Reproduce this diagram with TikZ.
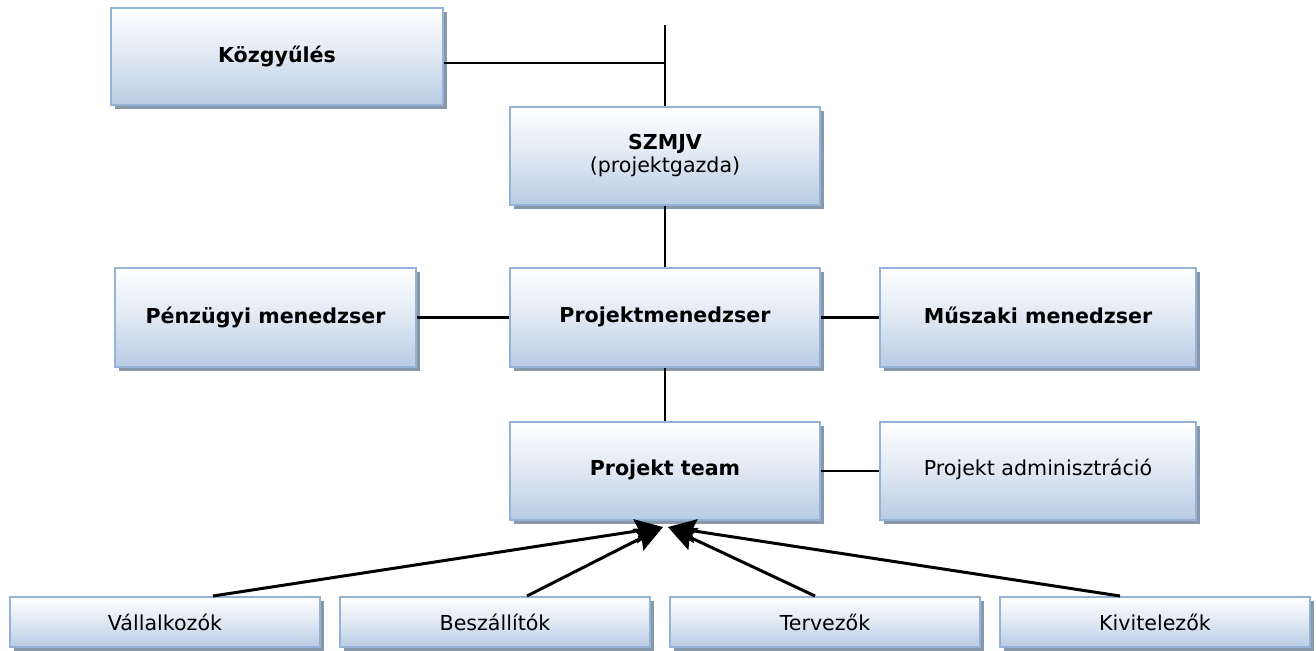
\documentclass[tikz,border=0pt]{standalone}
\usepackage{fontspec}
\setmainfont{DejaVu Sans}
\usetikzlibrary{shadows,arrows.meta}
\definecolor{boxline}{HTML}{95B3D7}
\definecolor{boxbot}{HTML}{B8CCE4}
\definecolor{shadowc}{HTML}{8898AB}
\tikzset{
  box/.style={draw=boxline, line width=2pt, top color=white, bottom color=boxbot,
    middle color=boxbot!45!white, shading angle=0,
    drop shadow={shadow xshift=4pt, shadow yshift=-4pt, fill=shadowc, opacity=1},
    inner sep=0pt, font=\fontsize{20.6}{25}\selectfont, align=center},
  conn/.style={line width=2.2pt, black},
  arr/.style={line width=3pt, arrows={-Stealth[length=28pt,width=24pt,inset=4pt]}},
}
\begin{document}
\begin{tikzpicture}[x=1pt,y=-1pt]
\useasboundingbox (0,0) rectangle (1316,650);
\node[box, minimum width=332, minimum height=97] (kozgy) at (277,56.5) {\raisebox{5pt}{\bfseries Közgyűlés}};
\node[box, minimum width=310, minimum height=98] (szmjv) at (665,156) {\raisebox{9pt}{\begin{tabular}{@{}c@{}}\bfseries SZMJV\\[-1pt](projektgazda)\end{tabular}}};
\node[box, minimum width=301, minimum height=99] (penz) at (265.5,317.5) {\raisebox{5pt}{\bfseries Pénzügyi menedzser}};
\node[box, minimum width=310, minimum height=99] (pm) at (665,317.5) {\raisebox{5pt}{\bfseries Projektmenedzser}};
\node[box, minimum width=316, minimum height=99] (musz) at (1038,317.5) {\raisebox{5pt}{\bfseries Műszaki menedzser}};
\node[box, minimum width=310, minimum height=98] (team) at (665,471) {\raisebox{7pt}{\bfseries Projekt team}};
\node[box, minimum width=316, minimum height=98] (admin) at (1038,471) {\raisebox{7pt}{Projekt adminisztráció}};
\node[box, minimum width=310, minimum height=50] (vall) at (165,622) {Vállalkozók};
\node[box, minimum width=310, minimum height=50] (besz) at (495,622) {Beszállítók};
\node[box, minimum width=310, minimum height=50] (terv) at (825,622) {Tervezők};
\node[box, minimum width=310, minimum height=50] (kiv) at (1155,622) {Kivitelezők};
\coordinate (top) at (665,25);
\coordinate (j) at (665,63);
\coordinate (tipL) at (663,527);
\coordinate (tipR) at (668,527);
\draw[conn] (top) -- (szmjv.north);
\draw[conn] (kozgy.east |- j) -- (j);
\draw[conn] (szmjv.south) -- (pm.north);
\draw[conn] (penz.east) -- (pm.west);
\draw[conn] (pm.east) -- (musz.west);
\draw[conn] (pm.south) -- (team.north);
\draw[conn] (team.east) -- (admin.west);
\draw[arr] ([xshift=48]vall.north) -- (tipL);
\draw[arr] ([xshift=32]besz.north) -- (tipL);
\draw[arr] ([xshift=-10]terv.north) -- (tipR);
\draw[arr] ([xshift=-35]kiv.north) -- (tipR);
\end{tikzpicture}
\end{document}
